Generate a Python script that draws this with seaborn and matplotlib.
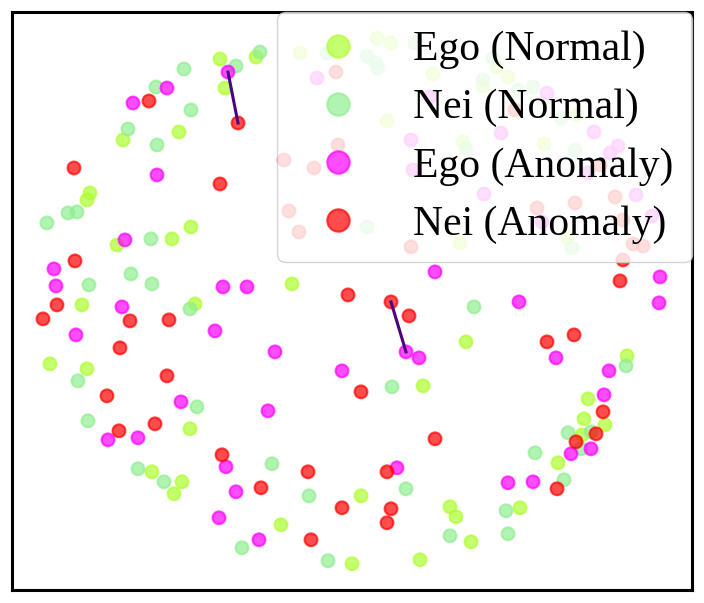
import pandas as pd
import seaborn as sns
import matplotlib.pyplot as plt

# embedding positions (x right, y down)
ego_normal_x = [256, 220, 225, 123, 179, 90, 87, 191, 117, 172, 292, 82, 195, 50, 87, 190, 152, 182,
                174, 281, 352, 466, 627, 423, 588, 584, 605, 582, 558, 361, 450, 456, 520, 471, 420,
                300, 377, 391, 433, 483, 387, 463, 460, 497, 508, 577, 544, 567]
ego_normal_y = [57, 59, 88, 140, 132, 193, 200, 227, 245, 239, 284, 305, 304, 364, 369, 429, 472, 482,
                494, 525, 564, 342, 356, 386, 399, 419, 425, 435, 463, 496, 507, 517, 508, 542, 560,
                53, 38, 43, 74, 86, 121, 142, 243, 67, 77, 115, 144, 237]

nei_normal_x = [260, 236, 184, 156, 191, 128, 157, 77, 68, 47, 151, 131, 89, 152, 190, 78, 197, 88,
                272, 138, 164, 309, 242, 328, 474, 626, 392, 568, 591, 581, 535, 406, 564, 506, 450, 508,
                327, 367, 376, 378, 415, 483, 466, 367, 493, 518, 533, 561, 575, 572]
nei_normal_y = [52, 66, 69, 87, 110, 129, 145, 212, 213, 223, 239, 274, 285, 284, 309, 381, 407, 421,
                464, 469, 482, 496, 548, 561, 307, 366, 387, 433, 432, 449, 453, 489, 480, 511, 536, 534,
                53, 56, 63, 68, 43, 80, 149, 227, 58, 90, 87, 118, 150, 248]

ego_anom_x = [228, 167, 133, 157, 125, 54, 56, 223, 247, 122, 76, 215, 275, 342, 181, 268, 108, 138,
              226, 236, 219, 259, 406, 419, 519, 659, 556, 609, 604, 571, 591, 397, 508, 533, 435, 660,
              317, 430, 411, 413, 484, 547, 501, 594, 618, 610, 588, 636, 542, 652]
ego_anom_y = [72, 88, 103, 175, 240, 269, 286, 287, 287, 307, 335, 331, 352, 371, 402, 411, 440, 438,
              467, 492, 518, 540, 352, 358, 302, 303, 358, 371, 395, 454, 449, 468, 483, 482, 272, 277,
              78, 97, 140, 170, 194, 93, 133, 132, 146, 153, 173, 195, 222, 216]

nei_anom_x = [238, 149, 74, 220, 75, 348, 57, 43, 130, 169, 120, 167, 107, 119, 155, 222, 308, 261,
              342, 311, 391, 409, 547, 574, 361, 603, 596, 576, 435, 387, 557, 391, 387, 620, 623,
              336, 338, 284, 314, 289, 299, 411, 515, 600, 615, 537, 575, 623, 633, 643]
nei_anom_y = [123, 101, 168, 184, 261, 295, 305, 319, 321, 320, 348, 376, 396, 431, 424, 455, 472, 488,
              508, 540, 302, 316, 342, 335, 392, 412, 434, 442, 439, 472, 489, 509, 523, 281, 260,
              72, 145, 160, 168, 211, 232, 247, 110, 165, 197, 208, 203, 220, 244, 246]

# ego -> neighbour links
link_x = [[228, 238], [406, 391]]
link_y = [[72, 123], [352, 302]]

groups = ['Ego (Normal)', 'Nei (Normal)', 'Ego (Anomaly)', 'Nei (Anomaly)']
colors = ['greenyellow', 'lightgreen', 'magenta', 'red']

frames = []
for name, xs, ys in zip(groups,
                        [ego_normal_x, nei_normal_x, ego_anom_x, nei_anom_x],
                        [ego_normal_y, nei_normal_y, ego_anom_y, nei_anom_y]):
    frames.append(pd.DataFrame({'x': xs, 'y': ys, 'group': name}))
df = pd.concat(frames, ignore_index=True)

fig, ax = plt.subplots(figsize=(7.04, 6.03), dpi=100)
fig.subplots_adjust(left=0.017, right=0.983, bottom=0.022, top=0.98)

sns.scatterplot(data=df, x='x', y='y', hue='group', hue_order=groups,
                palette=dict(zip(groups, colors)), s=85, alpha=0.7,
                edgecolor='face', linewidth=1.5, ax=ax)

for lx, ly in zip(link_x, link_y):
    ax.plot(lx, ly, color='indigo', lw=2.2, zorder=3)

ax.set_xlim(12, 692)
ax.set_ylim(590, 12)
ax.set_xticks([])
ax.set_yticks([])
ax.set_xlabel('')
ax.set_ylabel('')
for sp in ax.spines.values():
    sp.set_linewidth(2.2)
    sp.set_color('black')

handles, labels = ax.get_legend_handles_labels()
ax.legend(handles, labels, loc='upper right', borderaxespad=0, markerscale=1.75,
          labelspacing=0.47, borderpad=0.45, handletextpad=0.8, framealpha=0.82,
          prop={'family': 'Liberation Serif', 'size': 30})

plt.savefig('out.png', dpi=100)
